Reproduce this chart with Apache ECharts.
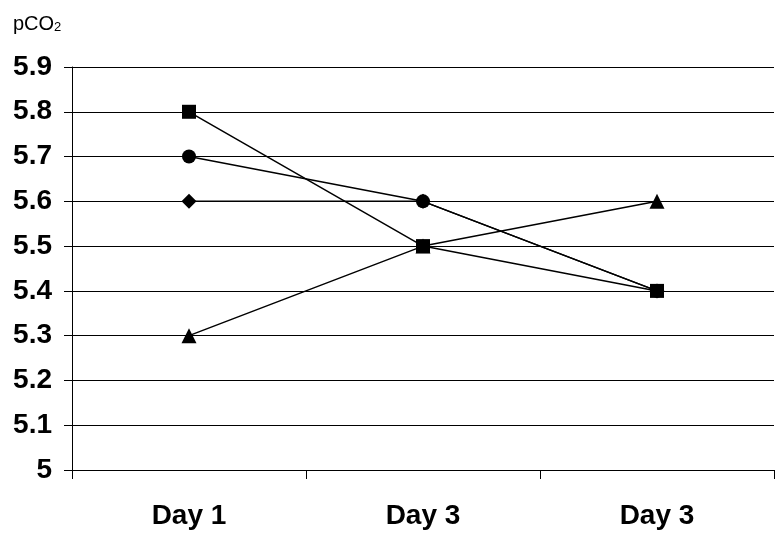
<!DOCTYPE html>
<html><head><meta charset="utf-8">
<script src="https://cdn.jsdelivr.net/npm/echarts@6/dist/echarts.min.js"></script>
<style>html,body{margin:0;padding:0;background:#fff}#c{width:782px;height:539px}</style>
</head><body><div id="c"></div>
<script>
var categories = ['Day 1', 'Day 3', 'Day 3'];
var diamondValues = [5.6, 5.6, 5.4];
var triangleValues = [5.3, 5.5, 5.6];
var circleValues = [5.7, 5.6, 5.4];
var squareValues = [5.8, 5.5, 5.4];
var yTickLabels = ['5', '5.1', '5.2', '5.3', '5.4', '5.5', '5.6', '5.7', '5.8', '5.9'];

var FONT = '"Liberation Sans", Arial, sans-serif';
function mk(name, data, symbol, size, z) {
  return {
    name: name, type: 'line', data: data, symbol: symbol, symbolSize: size,
    z: z, animation: false,
    lineStyle: { color: '#000', width: 1.5 },
    itemStyle: { color: '#000', borderWidth: 0 }
  };
}
var chart = echarts.init(document.getElementById('c'));
chart.setOption({
  backgroundColor: '#fff',
  animation: false,
  title: {
    text: '{a|pCO}{b|2}', left: 8, top: 6,
    textStyle: { fontWeight: 'normal', rich: {
      a: { fontFamily: FONT, fontSize: 20, fontWeight: 'normal', color: '#000', verticalAlign: 'bottom' },
      b: { fontFamily: FONT, fontSize: 13, fontWeight: 'normal', color: '#000', padding: [10, 0, 0, 0], verticalAlign: 'bottom' }
    } }
  },
  grid: { left: 72, right: 8, top: 67, bottom: 69, containLabel: false },
  xAxis: {
    type: 'category', data: categories, boundaryGap: true,
    axisLine: { lineStyle: { color: '#000', width: 1 } },
    axisTick: { show: true, length: 9, lineStyle: { color: '#000' } },
    axisLabel: { color: '#000', fontFamily: FONT, fontWeight: 'bold', fontSize: 28, margin: 32, interval: 0 },
    splitLine: { show: false }
  },
  yAxis: {
    type: 'value', min: 5, max: 5.9, interval: 0.1,
    axisLine: { show: true, lineStyle: { color: '#000', width: 1 } },
    axisTick: { show: true, length: 8, lineStyle: { color: '#000' } },
    axisLabel: { color: '#000', fontFamily: FONT, fontWeight: 'bold', fontSize: 28, margin: 20,
      formatter: function (v) { var i = Math.round((v - 5) * 10); return yTickLabels[i]; } },
    splitLine: { show: true, lineStyle: { color: '#000', width: 1 } }
  },
  series: [
    mk('A', diamondValues, 'diamond', 15, 2),
    mk('B', triangleValues, 'triangle', 15, 3),
    mk('C', circleValues, 'circle', 14, 4),
    mk('D', squareValues, 'rect', 14, 5)
  ]
});
</script></body></html>
